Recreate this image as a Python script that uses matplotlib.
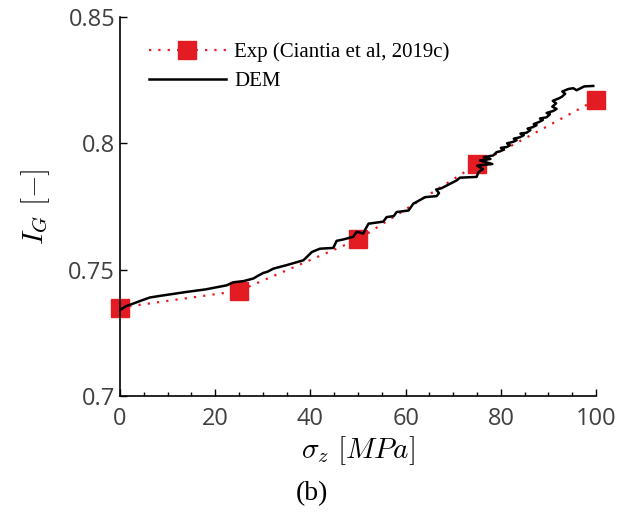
import matplotlib
matplotlib.use('Agg')
import matplotlib.pyplot as plt
from matplotlib.ticker import MultipleLocator

plt.rcParams['mathtext.fontset'] = 'cm'

# experimental points
exp_x = [0, 25, 50, 75, 100]
exp_y = [0.735, 0.7416, 0.762, 0.7917, 0.8172]

# DEM curve
dem_x = [0, 1.2, 2.8, 4.5, 6.3, 9, 14, 18, 22.4, 23.8,
         26, 28, 29, 30.1, 31, 32.2, 35, 38.5, 39.5, 40.3,
         42, 44.8, 45.5, 47, 49, 49.7, 51.1, 51.6, 52.2, 55.3,
         56, 57.5, 58.1, 60.6, 61.6, 64.1, 66.5, 67.0, 66.4, 67.5,
         70.7, 71.4, 74.9, 75.3, 76.2, 75.0, 78.2, 75.6, 77.8, 76.4,
         78.4, 79.1, 79.8, 80.6, 80.0, 81.2, 81.9, 81.3, 82.6, 83.3,
         82.7, 84.0, 84.8, 84.1, 85.4, 86.2, 85.6, 86.7, 87.5, 86.9,
         88.1, 88.8, 88.2, 89.6, 90.3, 89.6, 91.0, 91.7, 90.8, 91.6,
         90.9, 92.2, 92.8, 93.5, 92.9, 94.2, 95.2, 95.9, 97.5, 99.4]
dem_y = [0.734, 0.7355, 0.7366, 0.7378, 0.739, 0.7398, 0.7412, 0.7422, 0.7438, 0.745,
         0.7455, 0.7465, 0.7476, 0.7487, 0.7492, 0.7504, 0.7518, 0.7537, 0.7555, 0.757,
         0.7583, 0.7586, 0.7614, 0.762, 0.763, 0.765, 0.7643, 0.7662, 0.7682, 0.769,
         0.7708, 0.7712, 0.7728, 0.7734, 0.7761, 0.7787, 0.7791, 0.7803, 0.7817, 0.7822,
         0.7853, 0.7864, 0.7867, 0.7886, 0.7898, 0.7912, 0.7918, 0.7932, 0.7938, 0.7945,
         0.7952, 0.7965, 0.7968, 0.7975, 0.7982, 0.7985, 0.7992, 0.8, 0.8006, 0.8012,
         0.8018, 0.8024, 0.8032, 0.8038, 0.8042, 0.8052, 0.8058, 0.8064, 0.8072, 0.8076,
         0.8085, 0.8092, 0.8098, 0.8103, 0.8115, 0.812, 0.8128, 0.8136, 0.8145, 0.8158,
         0.8168, 0.8178, 0.8184, 0.8196, 0.8205, 0.8215, 0.8218, 0.821, 0.8225, 0.8227]

xticks = [0, 20, 40, 60, 80, 100]
yticks = [0.7, 0.75, 0.8, 0.85]
ytick_labels = ['0.7', '0.75', '0.8', '0.85']

fig = plt.figure(figsize=(6.24, 5.13), dpi=100)
ax = fig.add_axes([0.1923, 0.228, 0.763, 0.739])

ax.plot(exp_x, exp_y, linestyle=(0, (1, 3.2)), color='#e8191f', lw=1.6, marker='s',
        markersize=13, markerfacecolor='#e31b23', markeredgecolor='#e31b23',
        label='Exp (Ciantia et al, 2019c)', zorder=2, clip_on=False)
ax.plot(dem_x, dem_y, color='black', lw=1.8, label='DEM', zorder=3)

ax.set_xlim(0, 100)
ax.set_ylim(0.7, 0.85)
ax.set_xticks(xticks)
ax.set_yticks(yticks)
ax.set_yticklabels(ytick_labels)
ax.xaxis.set_minor_locator(MultipleLocator(5))
ax.tick_params(direction='in', which='both', labelsize=17, labelcolor='#404040',
               length=5, width=1)
ax.tick_params(which='minor', length=3)
ax.tick_params(axis='x', pad=8)
for lab in ax.get_xticklabels() + ax.get_yticklabels():
    lab.set_family('Open Sans')
ax.spines['top'].set_visible(False)
ax.spines['right'].set_visible(False)
ax.spines['left'].set_linewidth(1.2)
ax.spines['bottom'].set_linewidth(1.2)

ax.set_xlabel(r'$\sigma_z\ [MPa]$', fontsize=21, labelpad=2)
ax.set_ylabel(r'$I_G\ [-]$', fontsize=21, labelpad=12)

leg = ax.legend(loc='upper left', frameon=False, prop={'family': 'Liberation Serif', 'size': 15},
                handlelength=3.7, handletextpad=0.4, labelspacing=0.45,
                bbox_to_anchor=(0.034, 0.965), borderaxespad=0.2)

fig.text(0.5, 0.037, '(b)', ha='center', va='center', fontsize=20,
         family='Liberation Serif')

fig.savefig('out.png', dpi=100)
plt.close()
